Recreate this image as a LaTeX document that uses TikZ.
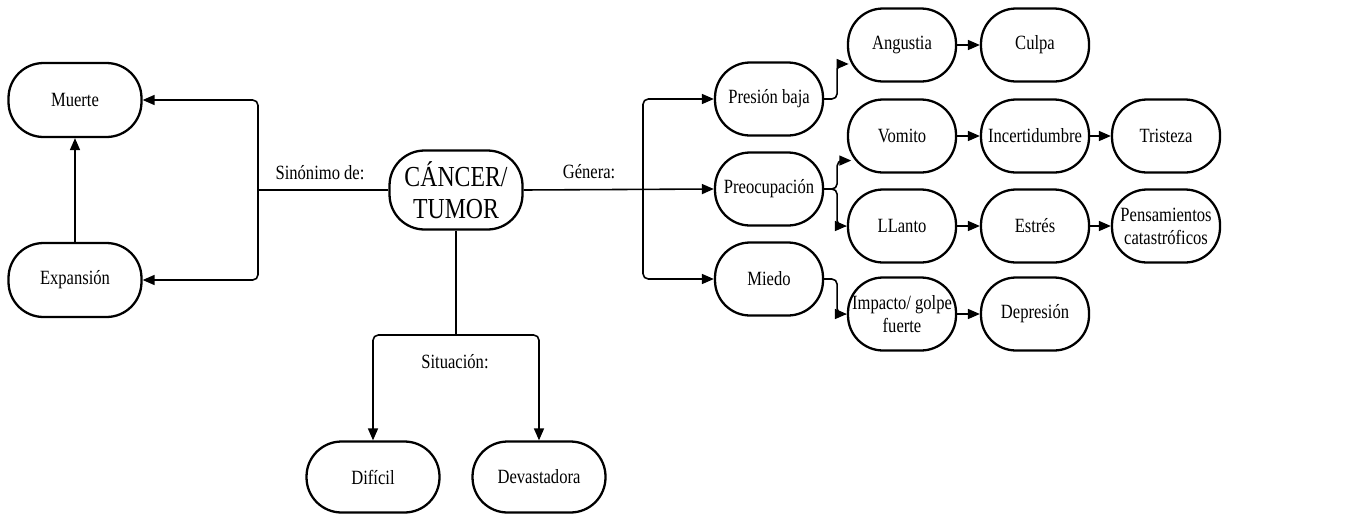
\documentclass[tikz,border=0pt]{standalone}
\usepackage{fontspec}
\setmainfont{Liberation Serif}[FakeStretch=0.82]
\usetikzlibrary{arrows.meta}

\tikzset{
  concept/.style={draw, line width=1.3pt, rectangle, rounded corners=0.7cm,
    minimum width=2.16cm, minimum height=1.46cm, inner sep=1pt, align=center,
    font=\fontsize{11.5}{13}\selectfont},
  wide/.style={concept, minimum width=2.66cm, minimum height=1.48cm},
  link/.style={line width=0.9pt, rounded corners=3pt},
  tip/.style={link, -{Triangle[length=2.4mm,width=2mm]}},
  linklabel/.style={font=\fontsize{11.5}{13}\selectfont}
}

\begin{document}
\begin{tikzpicture}[x=0.02cm,y=-0.02cm]
  \useasboundingbox (0,0) rectangle (1354,514);

  % centre
  \node[wide, minimum height=1.58cm, font=\fontsize{16.5}{18.5}\selectfont] (cancer) at (456,190) {CÁNCER/\\TUMOR};

  % left: sinonimo
  \node[wide] (muerte) at (75,100) {Muerte};
  \node[wide] (expansion) at (75,280) {Expansión};
  \coordinate (splitL) at (258,190);
  \draw[link] (cancer.west) -- (splitL);
  \draw[tip] (splitL) |- (muerte.east);
  \draw[tip] (splitL) |- (expansion.east);
  \draw[tip] (expansion.north) -- (muerte.south);
  \node[linklabel] (sinonimo) at (320,173) {Sinónimo de:};

  % bottom: situacion
  \node[wide, minimum height=1.42cm] (dificil) at (373,477) {Difícil};
  \node[wide, minimum height=1.42cm] (devastadora) at (539,477) {Devastadora};
  \coordinate (splitB) at (456,335);
  \draw[link] (cancer.south) -- (splitB);
  \draw[tip] (splitB) -| (dificil.north);
  \draw[tip] (splitB) -| (devastadora.north);
  \node[linklabel] (situacion) at (455,362) {Situación:};

  % right: genera
  \node[concept] (presion) at (769,99) {Presión baja};
  \node[concept] (preocupacion) at (769,189) {Preocupación};
  \node[concept] (miedo) at (769,279) {Miedo};
  \coordinate (splitR) at (643,190);
  \draw[tip] (cancer.east) -- (preocupacion.west);
  \draw[tip] (splitR) |- (presion.west);
  \draw[tip] (splitR) |- (miedo.west);
  \node[linklabel] (genera) at (589,172) {Génera:};

  \node[concept] (angustia) at (902,45) {Angustia};
  \node[concept] (culpa) at (1035,45) {Culpa};
  \node[concept] (vomito) at (902,136) {Vomito};
  \node[concept] (incert) at (1035,136) {Incertidumbre};
  \node[concept] (tristeza) at (1166,136) {Tristeza};
  \node[concept] (llanto) at (902,226) {LLanto};
  \node[concept] (estres) at (1035,226) {Estrés};
  \node[concept] (pensam) at (1166,226) {Pensamientos\\catastróficos};
  \node[concept] (impacto) at (902,314) {Impacto/ golpe\\fuerte};
  \node[concept] (depresion) at (1035,314) {Depresión};

  \draw[tip] (presion.east) -- ++(13,0) |- ([xshift=1pt]angustia.199);
  \draw[tip] (preocupacion.east) -- ++(13,0) |- ([xshift=2.5pt]vomito.204);
  \draw[tip] (preocupacion.east) -- ++(13,0) |- (llanto.west);
  \draw[tip] (miedo.east) -- ++(13,0) |- (impacto.west);

  \draw[tip] (angustia) -- (culpa);
  \draw[tip] (vomito) -- (incert);
  \draw[tip] (incert) -- (tristeza);
  \draw[tip] (llanto) -- (estres);
  \draw[tip] (estres) -- (pensam);
  \draw[tip] (impacto) -- (depresion);
\end{tikzpicture}
\end{document}
